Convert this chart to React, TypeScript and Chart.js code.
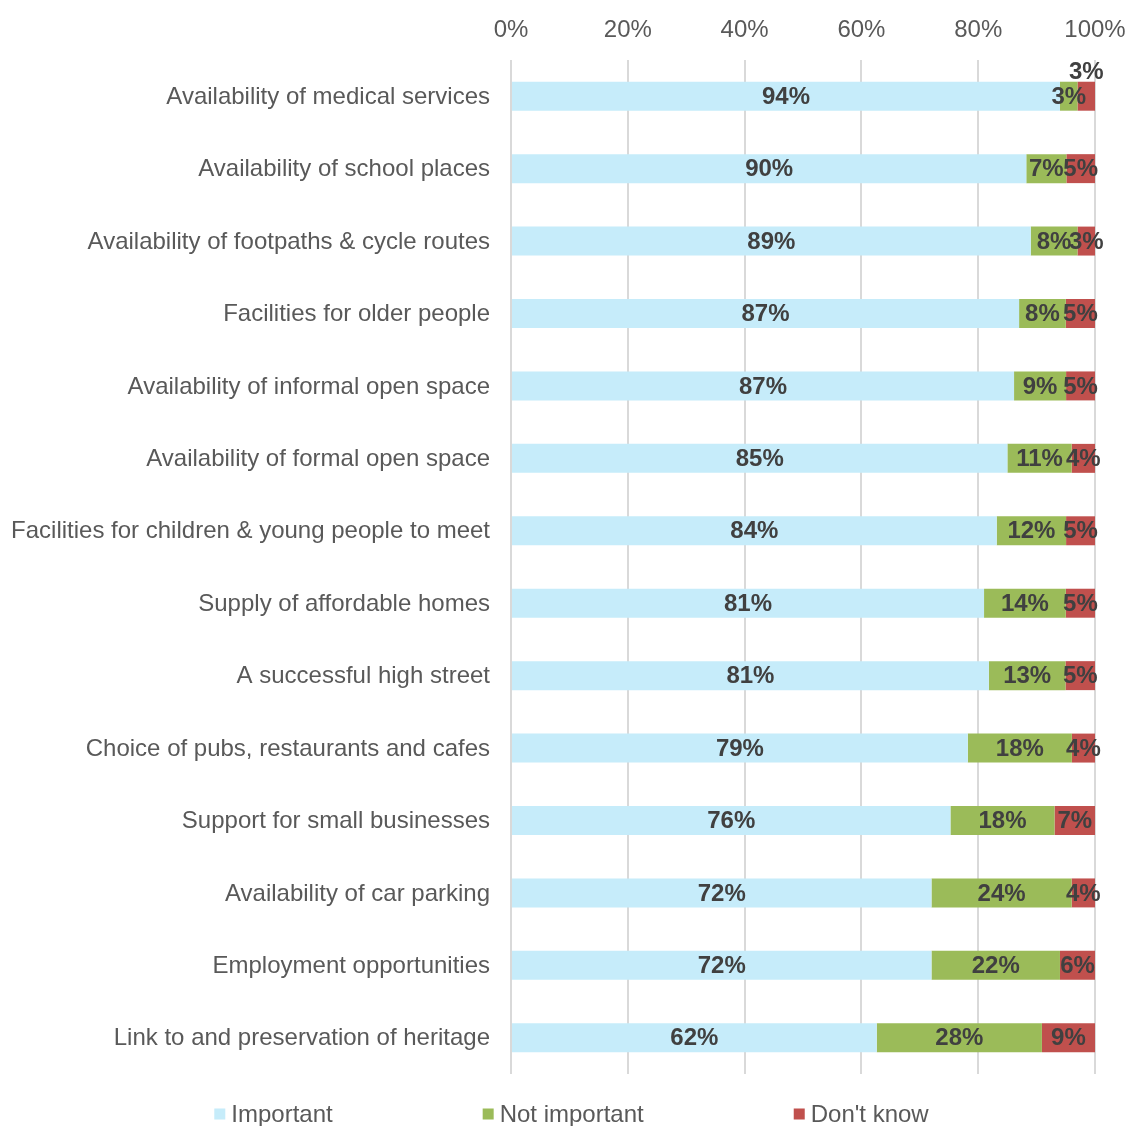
import React, { useEffect, useRef } from 'react';
import { Chart, registerables } from 'chart.js';

Chart.register(...registerables);

const categories = [
  'Availability of medical services',
  'Availability of school places',
  'Availability of footpaths & cycle routes',
  'Facilities for older people',
  'Availability of informal open space',
  'Availability of formal open space',
  'Facilities for children & young people to meet',
  'Supply of affordable homes',
  'A successful high street',
  'Choice of pubs, restaurants and cafes',
  'Support for small businesses',
  'Availability of car parking',
  'Employment opportunities',
  'Link to and preservation of heritage',
];

const important = [94, 90, 89, 87, 87, 85, 84, 81, 81, 79, 76, 72, 72, 62];
const notImportant = [3, 7, 8, 8, 9, 11, 12, 14, 13, 18, 18, 24, 22, 28];
const dontKnow = [3, 5, 3, 5, 5, 4, 5, 5, 5, 4, 7, 4, 6, 9];

const seriesNames = ['Important', 'Not important', "Don't know"];
const seriesColors = ['#C6ECFA', '#9BBB59', '#C0504D'];
const xTickValues = [0, 20, 40, 60, 80, 100];

const FONT = '"Liberation Sans", Arial, sans-serif';
const FONT_SIZE = 24;
const rawSeries = [important, notImportant, dontKnow];
const totals = categories.map((_, i) => important[i] + notImportant[i] + dontKnow[i]);

const segLabelPlugin = {
  id: 'segLabels',
  afterDatasetsDraw(chart: any) {
    const ctx = chart.ctx;
    ctx.save();
    ctx.font = `bold ${FONT_SIZE}px ${FONT}`;
    ctx.fillStyle = '#404040';
    ctx.textAlign = 'center';
    ctx.textBaseline = 'middle';
    for (let i = 0; i < categories.length; i++) {
      let prevX = -Infinity;
      let prevW = 0;
      rawSeries.forEach((series, d) => {
        const bar = chart.getDatasetMeta(d).data[i];
        if (!bar) return;
        const p = bar.getProps(['x', 'y', 'base', 'height'], true);
        const text = series[i] + '%';
        const w = ctx.measureText(text).width;
        const x = (p.x + p.base) / 2;
        let y = p.y;
        if (x - prevX < ((w + prevW) / 2) * 0.6) {
          y = p.y - p.height / 2 - 10;
        }
        ctx.fillText(text, x, y + 1);
        prevX = x;
        prevW = w;
      });
    }
    ctx.restore();
  },
};

const legendPlugin = {
  id: 'bottomLegend',
  afterDraw(chart: any) {
    const ctx = chart.ctx;
    ctx.save();
    ctx.font = `${FONT_SIZE}px ${FONT}`;
    ctx.textBaseline = 'middle';
    ctx.textAlign = 'left';
    const box = 11;
    const gapBoxText = 6;
    const gapItems = 150;
    const widths = seriesNames.map((n) => box + gapBoxText + ctx.measureText(n).width);
    const total = widths.reduce((a, b) => a + b, 0) + gapItems * (seriesNames.length - 1);
    let x = chart.width / 2 + 8 - total / 2;
    const y = 1114;
    seriesNames.forEach((name, i) => {
      ctx.fillStyle = seriesColors[i];
      ctx.fillRect(x, y - box / 2, box, box);
      ctx.fillStyle = '#595959';
      ctx.fillText(name, x + box + gapBoxText, y + 1);
      x += widths[i] + gapItems;
    });
    ctx.restore();
  },
};

export default function App() {
  const canvasRef = useRef<HTMLCanvasElement | null>(null);

  useEffect(() => {
    if (!canvasRef.current) return;
    const datasets = rawSeries.map((series, d) => ({
      label: seriesNames[d],
      data: series.map((v, i) => (v / totals[i]) * 100),
      backgroundColor: seriesColors[d],
      borderWidth: 0,
      barPercentage: 0.4,
      categoryPercentage: 1,
    }));
    const chart = new Chart(canvasRef.current, {
      type: 'bar',
      data: { labels: categories, datasets },
      options: {
        indexAxis: 'y',
        animation: false,
        responsive: true,
        maintainAspectRatio: false,
        layout: { padding: { top: 0, right: 32, bottom: 52, left: 0 } },
        plugins: {
          legend: { display: false },
          tooltip: { enabled: false },
        },
        scales: {
          x: {
            position: 'top',
            stacked: true,
            min: 0,
            max: 100,
            afterBuildTicks: (scale: any) => {
              scale.ticks = xTickValues.map((v) => ({ value: v }));
            },
            afterFit: (scale: any) => {
              scale.height = 60;
              scale.paddingLeft = 0;
              scale.paddingRight = 0;
            },
            ticks: {
              padding: 15,
              color: '#595959',
              font: { family: FONT, size: FONT_SIZE },
              callback: (v: any) => v + '%',
            },
            grid: { color: '#D9D9D9', lineWidth: 2, drawTicks: false },
            border: { display: false },
          },
          y: {
            stacked: true,
            afterFit: (scale: any) => {
              scale.width = 511;
              scale.paddingTop = 0;
              scale.paddingBottom = 0;
            },
            ticks: {
              padding: 21,
              labelOffset: 1,
              color: '#595959',
              font: { family: FONT, size: FONT_SIZE },
            },
            grid: { display: false, drawTicks: false },
            border: { display: false },
          },
        },
      },
      plugins: [segLabelPlugin, legendPlugin],
    } as any);
    return () => chart.destroy();
  }, []);

  return (
    <div style={{ position: 'absolute', left: 0, top: 0, width: 1127, height: 1126, background: '#fff' }}>
      <canvas ref={canvasRef} />
    </div>
  );
}
